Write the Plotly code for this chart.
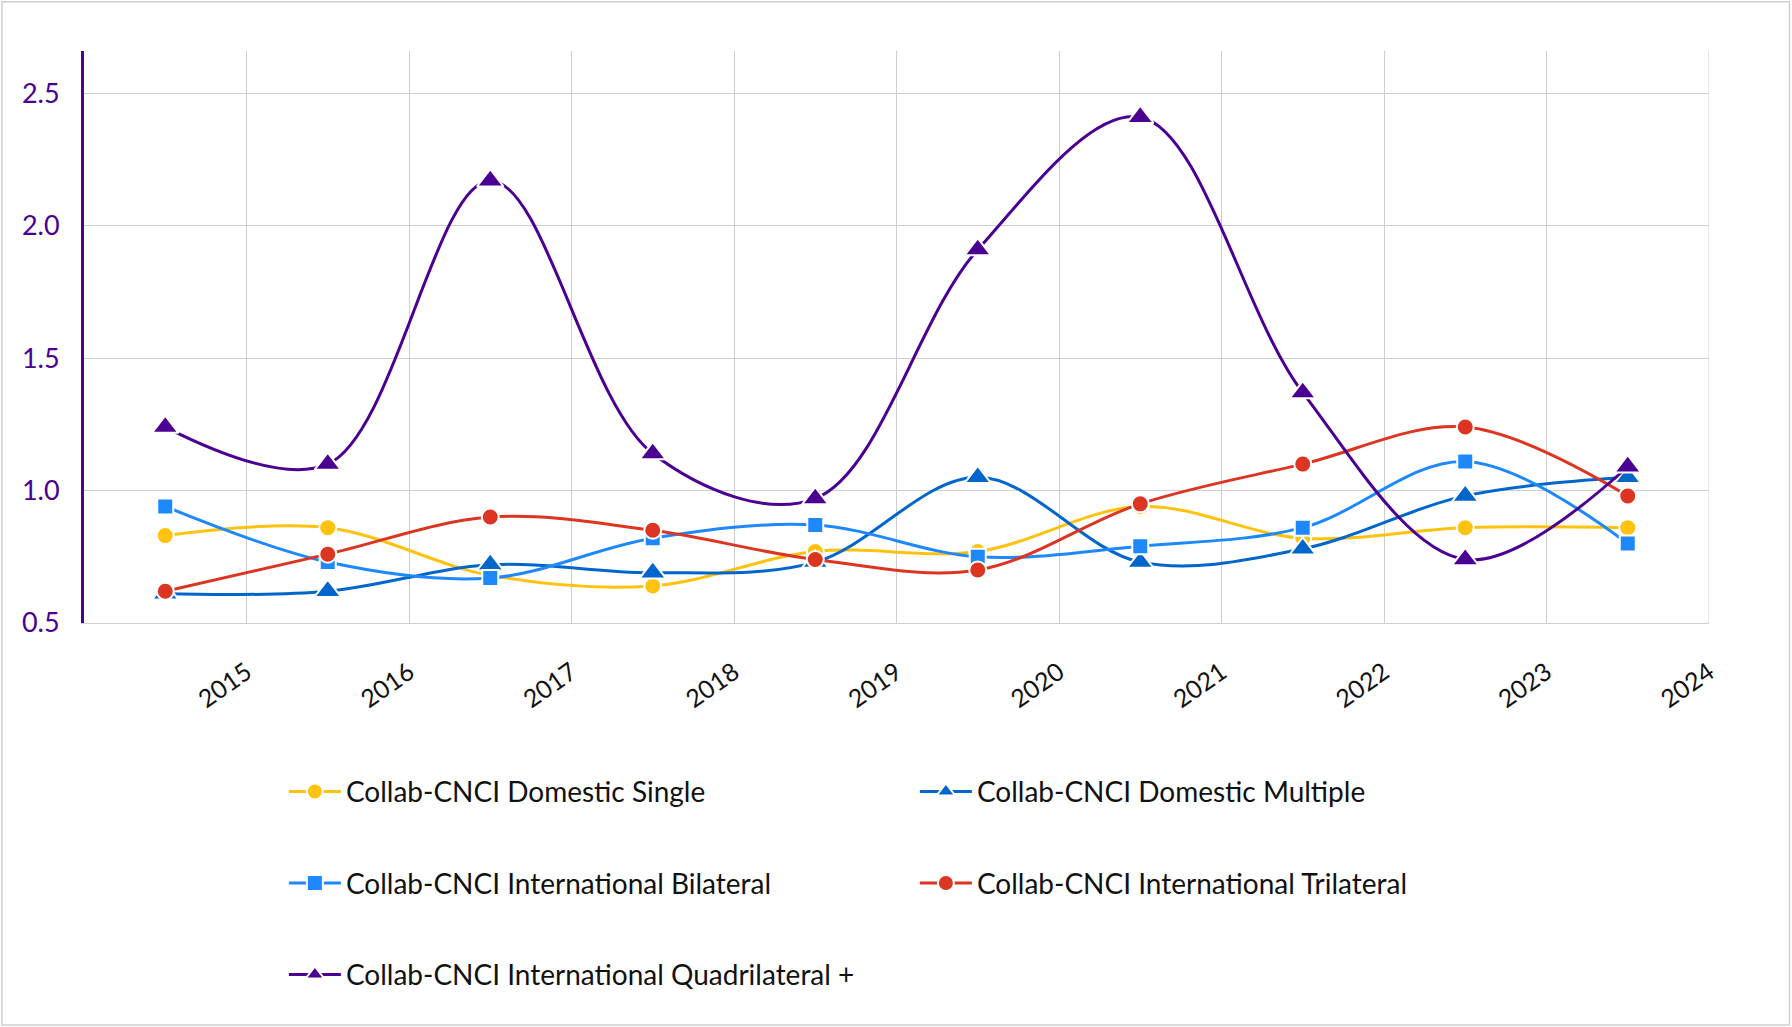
'''
    Collab-CNCI by collaboration type, 2015-2024, drawn as smoothed lines.
'''

import plotly.graph_objects as go

years = ['2015', '2016', '2017', '2018', '2019', '2020', '2021', '2022', '2023', '2024']

domestic_single = [0.83, 0.86, 0.68, 0.64, 0.77, 0.77, 0.94, 0.82, 0.86, 0.86]
domestic_multiple = [0.61, 0.62, 0.72, 0.69, 0.73, 1.05, 0.73, 0.78, 0.98, 1.05]
intl_bilateral = [0.94, 0.73, 0.67, 0.82, 0.87, 0.75, 0.79, 0.86, 1.11, 0.80]
intl_trilateral = [0.62, 0.76, 0.90, 0.85, 0.74, 0.70, 0.95, 1.10, 1.24, 0.98]
intl_quadrilateral = [1.24, 1.10, 2.17, 1.14, 0.97, 1.91, 2.41, 1.37, 0.74, 1.09]

FONT = 'Lato'
PURPLE = '#4B0092'

# points sit in the middle of each year slot, gridlines on the slot edges
x_pos = [i + 0.5 for i in range(len(years))]

series = [
    ('Collab-CNCI Domestic Single', domestic_single, '#FFC20E', 'circle', 'legend'),
    ('Collab-CNCI Domestic Multiple', domestic_multiple, '#0066CC', 'triangle-up', 'legend'),
    ('Collab-CNCI International Bilateral', intl_bilateral, '#1E88FF', 'square', 'legend2'),
    ('Collab-CNCI International Trilateral', intl_trilateral, '#DC3522', 'circle', 'legend2'),
    ('Collab-CNCI International Quadrilateral +', intl_quadrilateral, PURPLE, 'triangle-up', 'legend3'),
]
marker_size = {'circle': 17, 'square': 16, 'triangle-up': 23}

fig = go.Figure()
for name, values, color, symbol, legend in series:
    fig.add_trace(go.Scatter(
        x=x_pos,
        y=values,
        name=name,
        mode='lines+markers',
        line=dict(color=color, width=3, shape='spline', smoothing=1.0),
        marker=dict(symbol=symbol, size=marker_size[symbol], color=color,
                    line=dict(color='white', width=2)),
        legend=legend,
    ))

legend_style = dict(
    orientation='h',
    x=0.123,
    xanchor='left',
    yanchor='middle',
    entrywidth=564,
    itemwidth=52,
    font=dict(family=FONT, size=28, color='#111111'),
    bgcolor='rgba(0,0,0,0)',
)

fig.update_layout(
    width=1792,
    height=1027,
    margin=dict(l=84, r=83, t=51, b=404),
    paper_bgcolor='white',
    plot_bgcolor='white',
    font=dict(family=FONT),
    showlegend=True,
    legend=dict(legend_style, y=-0.295),
    legend2=dict(legend_style, y=-0.455),
    legend3=dict(legend_style, y=-0.615),
    xaxis=dict(
        range=[0, 10],
        tickmode='array',
        tickvals=list(range(1, 11)),
        ticktext=years,
        tickangle=-35,
        tickfont=dict(family=FONT, size=25, color='#111111'),
        ticklabelstandoff=24,
        showgrid=True,
        gridcolor='#CFCFCF',
        gridwidth=1,
        showline=True,
        linecolor='#CFCFCF',
        linewidth=1,
        zeroline=False,
        fixedrange=True,
    ),
    yaxis=dict(
        range=[0.5, 2.66],
        tickmode='array',
        tickvals=[0.5, 1.0, 1.5, 2.0, 2.5],
        tickformat='.1f',
        tickfont=dict(family=FONT, size=27, color=PURPLE),
        ticklabelstandoff=16,
        showgrid=True,
        gridcolor='#CFCFCF',
        gridwidth=1,
        showline=True,
        linecolor=PURPLE,
        linewidth=3,
        zeroline=False,
        fixedrange=True,
    ),
    shapes=[
        # right edge of the grid and outer frame of the card
        dict(type='line', xref='x', yref='paper', x0=10, x1=10, y0=0, y1=1,
             line=dict(color='#CFCFCF', width=1), layer='below'),
        dict(type='rect', xref='paper', yref='paper',
             x0=-0.0505, x1=1.0495, y0=-0.703, y1=1.086,
             line=dict(color='#D0D0D0', width=1.5)),
    ],
)

# drop the page's default body margin so the chart sits flush in the window
fig.write_html('out.html', config={'displayModeBar': False},
               post_script="document.body.style.margin='0';")
